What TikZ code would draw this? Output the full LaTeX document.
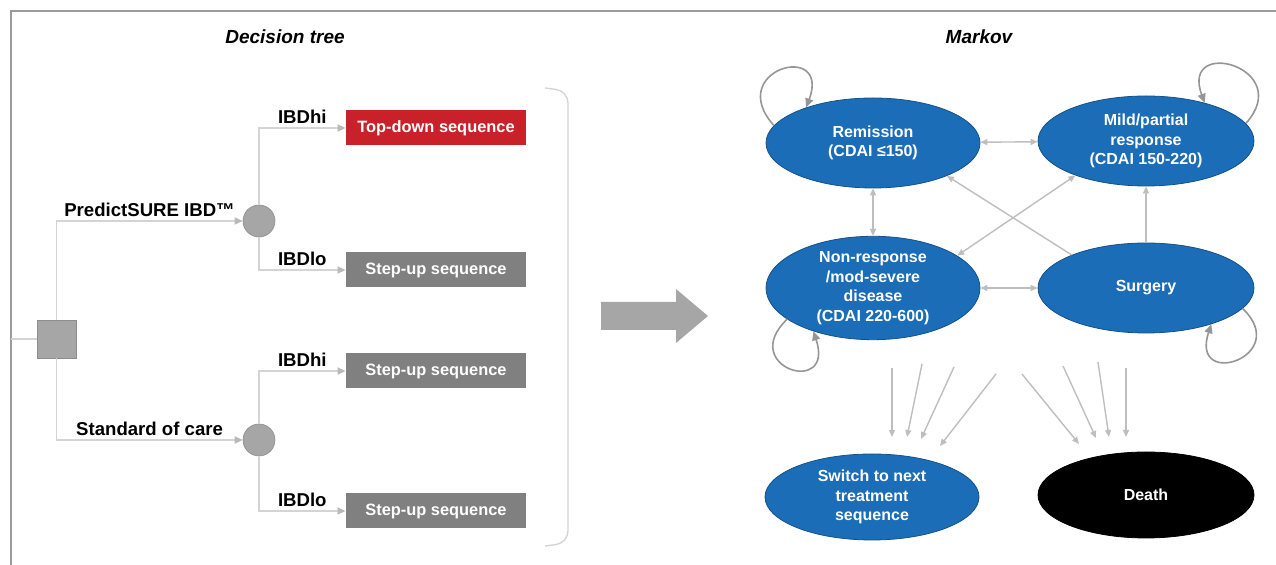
\documentclass[tikz,border=0pt]{standalone}
\usepackage{fontspec}
\setmainfont{Liberation Sans}
\usepackage{tikz}
\usetikzlibrary{shapes.geometric,arrows.meta}

\definecolor{markblue}{RGB}{27,109,183}
\definecolor{seqred}{RGB}{201,33,42}
\definecolor{seqgray}{RGB}{128,128,128}
\definecolor{nodegray}{RGB}{166,166,166}
\definecolor{linegray}{RGB}{212,212,212}
\definecolor{tipgray}{RGB}{185,185,185}
\definecolor{transgray}{RGB}{190,190,190}
\definecolor{loopgray}{RGB}{150,150,150}
\definecolor{framegray}{RGB}{155,155,155}

\tikzset{
  state/.style={ellipse, fill=markblue, draw=markblue!75!black, line width=0.4pt,
    minimum width=107pt, minimum height=45pt, inner sep=0pt, text=white, align=center,
    font=\fontsize{8}{9.8}\selectfont\bfseries},
  seqbox/.style={rectangle, fill=seqgray, minimum width=90pt, minimum height=17.5pt,
    inner sep=0pt, text=white, font=\fontsize{8.2}{10}\selectfont\bfseries},
  chance/.style={circle, fill=nodegray, draw=nodegray!85!black, line width=0.3pt,
    minimum size=16pt, inner sep=0pt},
  decision/.style={rectangle, fill=nodegray, draw=nodegray!85!black, line width=0.3pt,
    minimum width=19.5pt, minimum height=19pt, inner sep=0pt},
  branch/.style={draw=linegray, line width=0.7pt,
    -{Triangle[length=4pt,width=3.5pt,color=tipgray]}},
  branchlabel/.style={above, inner sep=2pt, font=\fontsize{9.3}{11}\selectfont\bfseries},
  trans/.style={draw=transgray, line width=0.7pt},
  tip/.style={-{Triangle[length=3.5pt,width=3pt]}},
  tips/.style={{Triangle[length=3.5pt,width=3pt]}-{Triangle[length=3.5pt,width=3pt]}},
  selfloop/.style={draw=loopgray, line width=0.8pt, -{Triangle[length=4.5pt,width=4pt]}},
  heading/.style={font=\fontsize{9.5}{11}\selectfont\bfseries\itshape}
}

\begin{document}
\begin{tikzpicture}[x=0.5pt,y=0.5pt,yscale=-1,xscale=1]
\useasboundingbox (0,0) rectangle (1276,565);
\draw [framegray, line width=0.8pt] (11,565) -- (11,11) -- (1276,11);
%Headings
\node [heading] (dtitle) at (285,37) {Decision tree};
\node [heading] (mtitle) at (979,37) {Markov};

%Decision tree
\coordinate (entry) at (11,339);
\node [decision] (sq) at (56.5,339) {};
\node [chance] (c1) at (259,221) {};
\node [chance] (c2) at (259,440) {};
\node [seqbox, fill=seqred] (top) at (436,128) {Top-down sequence};
\node [seqbox] (su1) at (436,270) {Step-up sequence};
\node [seqbox] (su2) at (436,371) {Step-up sequence};
\node [seqbox] (su3) at (436,511) {Step-up sequence};
\draw [linegray, line width=0.7pt] (entry) -- (sq.west);
\draw [branch] (sq.north) |- (c1.west) node [branchlabel, pos=0.75] {PredictSURE IBD™};
\draw [branch] (sq.south) |- (c2.west) node [branchlabel, pos=0.75] {Standard of care};
\draw [branch] (c1.north) |- (top.west) node [branchlabel, pos=0.75] {IBDhi};
\draw [branch] (c1.south) |- (su1.west) node [branchlabel, pos=0.75] {IBDlo};
\draw [branch] (c2.north) |- (su2.west) node [branchlabel, pos=0.75] {IBDhi};
\draw [branch] (c2.south) |- (su3.west) node [branchlabel, pos=0.75] {IBDlo};
\draw [linegray, line width=0.7pt, rounded corners=6pt] (545,88) -- (568,91) -- (568,543) -- (545,546);

%Big arrow
\fill [nodegray] (601,302) -- (676,302) -- (676,289) -- (708,316) -- (676,343) -- (676,330) -- (601,330) -- cycle;

%Markov
\node [state] (rem) at (873,143) {Remission\\(CDAI ≤150)};
\node [state, minimum width=108pt] (mild) at (1146,141) {Mild/partial\\response\\(CDAI 150-220)};
\node [state] (nonr) at (873,288) {Non-response\\/mod-severe\\disease\\(CDAI 220-600)};
\node [state, minimum width=108pt] (surg) at (1146,288) {Surgery};
\node [state, minimum height=43pt] (sw) at (872,497) {Switch to next\\treatment\\sequence};
\node [state, fill=black, draw=black, minimum width=108pt, minimum height=43pt] (death) at (1146,495) {Death};

\draw [trans, tips] (rem) -- (mild);
\draw [trans, tips] (rem) -- (nonr);
\draw [trans, tips] (nonr) -- (surg);
\draw [trans, tip] (surg) -- (mild);
\draw [trans, tip] (surg.156) -- (rem.-24);
\draw [trans, tips] (nonr.21) -- (mild.206);

\draw [selfloop] (rem.170) .. controls +(-50,-56) and +(25,-67) .. (rem.152);
\draw [selfloop] (mild.10) .. controls +(50,-56) and +(-25,-67) .. (mild.33);
\draw [selfloop] (nonr.200) .. controls +(-50,48) and +(22,66) .. (nonr.216);
\draw [selfloop] (surg.-12) .. controls +(50,48) and +(-22,66) .. (surg.-29);

%Exits
\foreach \i/\xa/\ya/\xb/\yb in {1/892/368/892/437, 2/922/364/907/437, 3/954/367/921/439, 4/996/374/940/446,
  5/1022/374/1079/444, 6/1063/366/1096/438, 7/1098/362/1109/437, 8/1126/368/1126/437}
{
  \coordinate (s\i) at (\xa,\ya);
  \coordinate (e\i) at (\xb,\yb);
  \draw [trans, tip] (s\i) -- (e\i);
}
\end{tikzpicture}
\end{document}
